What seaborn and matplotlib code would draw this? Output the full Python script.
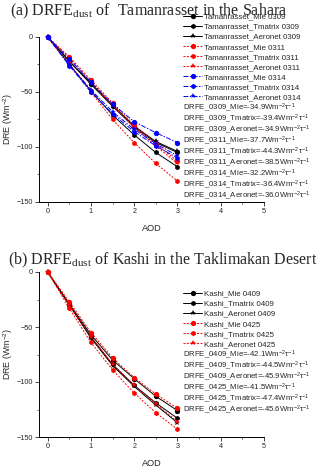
import numpy as np, pandas as pd
import matplotlib
matplotlib.use("Agg")
import matplotlib.pyplot as plt
import seaborn as sns

# AOD steps
aod = [0, 0.5, 1.0, 1.5, 2.0, 2.5, 3.0]

# (a) Tamanrasset, DRE (W m-2)
tam_mie_0309 = [0, -22, -43, -63, -82, -96, -105]
tam_tmx_0309 = [0, -25, -49, -71, -89, -105, -118]
tam_aer_0309 = [0, -22, -42, -62, -81, -95, -104]
tam_mie_0311 = [0, -18, -39, -60, -80, -97, -113]
tam_tmx_0311 = [0, -24, -50, -75, -96, -115, -131]
tam_aer_0311 = [0, -19, -41, -62, -82, -99, -115]
tam_mie_0314 = [0, -20, -41, -61, -77, -87, -96]
tam_tmx_0314 = [0, -26, -50, -70, -86, -99, -110]
tam_aer_0314 = [0, -25, -48, -68, -84, -97, -108]
tam_names = ["Tamanrasset_Mie 0309", "Tamanrasset_Tmatrix 0309", "Tamanrasset_Aeronet 0309",
             "Tamanrasset_Mie 0311", "Tamanrasset_Tmatrix 0311", "Tamanrasset_Aeronet 0311",
             "Tamanrasset_Mie 0314", "Tamanrasset_Tmatrix 0314", "Tamanrasset_Aeronet 0314"]
tam_drfe = ["DRFE_0309_Mie=-34.9", "DRFE_0309_Tmatrix=-39.4", "DRFE_0309_Aeronet=-34.9",
            "DRFE_0311_Mie=-37.7", "DRFE_0311_Tmatrix=-44.3", "DRFE_0311_Aeronet=-38.5",
            "DRFE_0314_Mie=-32.2", "DRFE_0314_Tmatrix=-36.4", "DRFE_0314_Aeronet=-36.0"]

# (b) Kashi
kas_mie_0409 = [0, -29, -57, -80, -97, -113, -126]
kas_tmx_0409 = [0, -30, -59, -84, -103, -119, -133]
kas_aer_0409 = [0, -30, -60, -85, -104, -121, -137]
kas_mie_0425 = [0, -27, -55, -78, -96, -111, -124]
kas_tmx_0425 = [0, -33, -64, -89, -110, -128, -143]
kas_aer_0425 = [0, -30, -59, -84, -103, -120, -136]
kas_names = ["Kashi_Mie 0409", "Kashi_Tmatrix 0409", "Kashi_Aeronet 0409",
             "Kashi_Mie 0425", "Kashi_Tmatrix 0425", "Kashi_Aeronet 0425"]
kas_drfe = ["DRFE_0409_Mie=-42.1", "DRFE_0409_Tmatrix=-44.5", "DRFE_0409_Aeronet=-45.9",
            "DRFE_0425_Mie=-41.5", "DRFE_0425_Tmatrix=-47.4", "DRFE_0425_Aeronet=-45.6"]

tam_vals = [tam_mie_0309, tam_tmx_0309, tam_aer_0309, tam_mie_0311, tam_tmx_0311,
            tam_aer_0311, tam_mie_0314, tam_tmx_0314, tam_aer_0314]
kas_vals = [kas_mie_0409, kas_tmx_0409, kas_aer_0409, kas_mie_0425, kas_tmx_0425, kas_aer_0425]

sns.set_style("white")
plt.rcParams['font.family'] = ['Liberation Sans', 'DejaVu Sans']
plt.rcParams['mathtext.default'] = 'regular'

W, H = 320, 467
fig = plt.figure(figsize=(W / 100, H / 100), dpi=100)

day_style = [("black", ""), ("red", (2, 1.5)), ("blue", (5, 1.5, 1.5, 1.5))]
mk = ["o", "h", "*"]


def long_df(names, vals):
    rows = []
    for n, v in zip(names, vals):
        for x, y in zip(aod, v):
            rows.append({"series": n, "AOD": x, "DRE": y})
    return pd.DataFrame(rows)


def panel(ax, names, vals, leg_top, drfe, drfe_top):
    df = long_df(names, vals)
    pal = {n: day_style[i // 3][0] for i, n in enumerate(names)}
    dsh = {n: day_style[i // 3][1] for i, n in enumerate(names)}
    mks = {n: mk[i % 3] for i, n in enumerate(names)}
    sns.lineplot(data=df, x="AOD", y="DRE", hue="series", style="series", hue_order=names,
                 style_order=names, palette=pal, dashes=dsh, markers=mks, markersize=3.8,
                 markeredgewidth=0, linewidth=0.7, legend=False, ax=ax)
    for ln in ax.get_lines():
        ln.set_clip_on(False)
    ax.set_xlim(-0.2, 5)
    ax.set_ylim(-150, 0)
    ax.set_xticks(range(6))
    ax.set_xticks(np.arange(0, 5.01, 0.5), minor=True)
    ax.set_yticks([0, -50, -100, -150])
    ax.set_yticks(np.arange(-150, 1, 25), minor=True)
    ax.tick_params(which="major", direction="out", length=3, width=0.6, labelsize=5.2, pad=1.5,
                   bottom=True, left=True)
    ax.tick_params(which="minor", direction="out", length=1.6, width=0.5, bottom=True, left=True)
    for s in ["top", "right"]:
        ax.spines[s].set_visible(False)
    for s in ["left", "bottom"]:
        ax.spines[s].set_linewidth(0.7)
        ax.spines[s].set_color("black")
    ax.set_xlabel("AOD", fontsize=6.6, labelpad=6)
    ax.set_ylabel("DRE (Wm$^{-2}$)", fontsize=6.4)
    ax.yaxis.set_label_coords(-0.105, 0.5)
    ax.legend(handles=ax.get_lines(), labels=names, loc="upper left", frameon=False,
              bbox_to_anchor=(183 / W, 1 - leg_top / H), bbox_transform=fig.transFigure,
              fontsize=5.7, borderpad=0, borderaxespad=0, handlelength=2.4,
              handletextpad=0.3, labelspacing=0.32)
    for i, t in enumerate(drfe):
        fig.text(183 / W, 1 - (drfe_top + 11 * i) / H, t + r"Wm$^{-2}\tau^{-1}$",
                 fontsize=5.6, va="center", ha="left")


ax_a = fig.add_axes([39 / W, 1 - 202 / H, 225 / W, 165 / H])
ax_b = fig.add_axes([39 / W, 1 - 437 / H, 225 / W, 165 / H])
panel(ax_a, tam_names, tam_vals, 13, tam_drfe, 108)
panel(ax_b, kas_names, kas_vals, 290, kas_drfe, 355)

fig.text(10 / W, 1 - 11 / H, "(a) DRFE$_{dust}$ of  Tamanrasset in the Sahara",
         family="Liberation Serif", fontsize=11.5, va="center", ha="left")
fig.text(8 / W, 1 - 260 / H, "(b) DRFE$_{dust}$ of Kashi in the Taklimakan Desert",
         family="Liberation Serif", fontsize=11.5, va="center", ha="left")

fig.savefig("out.png", dpi=100)
